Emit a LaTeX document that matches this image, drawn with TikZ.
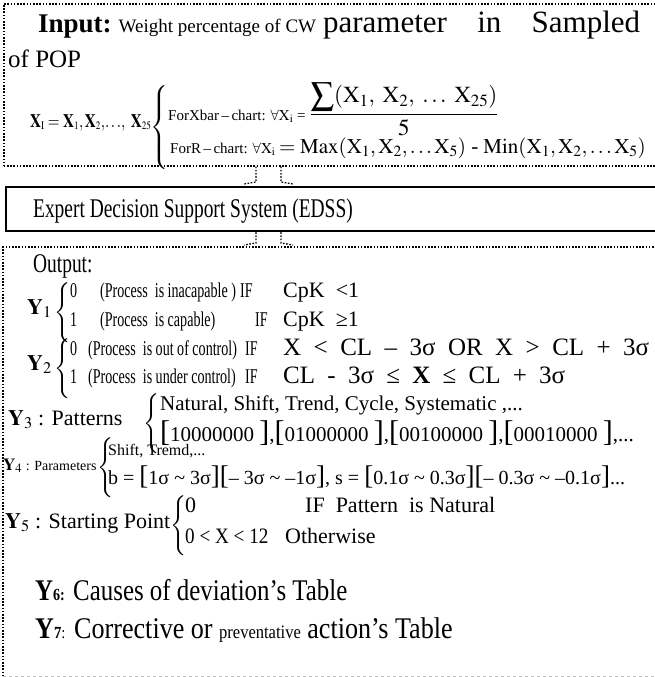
\documentclass[tikz,border=0pt]{standalone}
\usepackage{amsmath}
\usepackage{mathptmx}
\usepackage[no-math]{fontspec}
\setmainfont{Liberation Serif}
\usetikzlibrary{calc}
\newcommand{\fs}[1]{\fontsize{#1}{#1}\selectfont}
\newcommand{\cbr}[1]{$\left\{\vrule height #1 depth #1 width 0pt\right.$}
\newcommand{\bk}[1]{{\fs{30}[}#1{\fs{30}]}}
\newcommand{\sbk}[1]{{\fs{27}[}#1{\fs{27}]}}
\newcommand{\gap}{\hspace{4pt plus 1fill}}
\begin{document}
\begin{tikzpicture}[x=1pt, y=-1pt,
  edsdots/.style = {line width=1.6pt, dash pattern=on 1.6pt off 1.6pt},
  edsbox/.style = {anchor=north west, inner sep=0pt, minimum width=680pt},
  edslbl/.style = {anchor=base west, inner sep=0pt},
  edsrow/.style = {edslbl, font=\fs{21}, xscale=0.67},
  edsbrace/.style = {anchor=west, inner sep=0pt, font=\fs{20}}
]
  \useasboundingbox (0,0) rectangle (654,677);
  % boxes
  \node[edsbox, draw, edsdots, minimum height=162pt] (inbox) at (3,3) {};
  \node[edsbox, draw, line width=2.2pt, minimum height=44pt] (edss) at (5,186) {};
  \node[edsbox, minimum height=429pt] (outbox) at (3,247) {};
  \draw[edsdots] (outbox.south west) -- (outbox.north west) -- (outbox.north east);
  \draw[black!25, dashed] (outbox.south west) -- (outbox.south east);
  % dotted arrows between the boxes
  \coordinate (cl) at (256,0);
  \coordinate (cr) at (281,0);
  \foreach \a/\b in {inbox/edss, edss/outbox} {
    \draw[edsdots, line width=1.3pt] (cl |- \a.south) -- ($(cl |- \b.north)+(0,-4)$) -- ($(cl |- \b.north)+(-12,-2)$);
    \draw[edsdots, line width=1.3pt] (cr |- \a.south) -- ($(cr |- \b.north)+(0,-4)$) -- ($(cr |- \b.north)+(12,-2)$);
  }
  % input
  \node[edslbl] (inhead) at (38,33) {\hbox to 602pt{\fs{27}\textbf{Input:}\hspace{7pt}\fs{19}Weight percentage of CW\hspace{7pt}\fs{31}parameter\hspace{6pt plus 1fill}in\hspace{6pt plus 1fill}Sampled}};
  \node[edslbl, font=\fs{25}] (inpop) at (8,67) {of POP};
  \node[edslbl, font=\fs{19}, xscale=0.8] (xdef) at (30,127) {$\mathbf{X}_{\scriptscriptstyle\mathrm{I}} = \mathbf{X}_{\scriptscriptstyle 1},\mathbf{X}_{\scriptscriptstyle 2},\!\ldots\!,\ \mathbf{X}_{\scriptscriptstyle 25}$};
  \node[edsbrace] (xbrace) at (150,127) {\cbr{37pt}};
  \node[edslbl] (xbar) at (168,120) {\fs{15}ForXbar\,--\,chart: $\forall\mathrm{X}_{\mathrm{i}}$ = \fs{23}$\dfrac{\displaystyle\sum(\mathrm{X}_{1},\;\mathrm{X}_{2},\;\ldots\;\mathrm{X}_{25})}{5}$};
  \node[edslbl] (rchart) at (170,153) {\fs{15}ForR\,--\,chart: $\forall\mathrm{X}_{\mathrm{i}}$ \fs{21}$= \mathrm{Max}(\mathrm{X}_{1},\mathrm{X}_{2},\ldots\mathrm{X}_{5})$ - $\mathrm{Min}(\mathrm{X}_{1},\mathrm{X}_{2},\ldots\mathrm{X}_{5})$};
  % system
  \node[edslbl, font=\fs{27}, xscale=0.72] (edsstxt) at (33,217) {Expert Decision Support System (EDSS)};
  % output
  \node[edslbl, font=\fs{27}, xscale=0.72] (outtxt) at (33,272) {Output:};
  \node[edslbl, font=\fs{22}] (y1) at (27,314) {$\mathbf{Y}_{1}$};
  \node[edsbrace] (y1b) at (54,313) {\cbr{24pt}};
  \foreach \x/\y/\t in {70/297/0, 100/297/(Process\ \ is inacapable ), 240/297/IF,
                        70/326/1, 100/326/(Process\ \ is capable), 255/326/IF}
    \node[edsrow] (y1c\x-\y) at (\x,\y) {\t};
  \node[edslbl, font=\fs{22}] (y1m1) at (283,297) {CpK\ \ <1};
  \node[edslbl, font=\fs{22}] (y1m2) at (283,326) {CpK\ \ ≥1};
  \node[edslbl, font=\fs{22}] (y2) at (27,370) {$\mathbf{Y}_{2}$};
  \node[edsbrace] (y2b) at (54,369) {\cbr{24pt}};
  \foreach \x/\y/\t in {70/355/0, 88/355/(Process\ \ is out of control), 245/355/IF,
                        70/383/1, 88/383/(Process\ \ is under control), 245/383/IF}
    \node[edsrow] (y2c\x-\y) at (\x,\y) {\t};
  \node[edslbl, font=\fs{25}] (y2m1) at (283,355) {\hbox to 366pt{X\gap<\gap CL\gap--\gap3σ\gap OR\gap X\gap>\gap CL\gap+\gap3σ}};
  \node[edslbl, font=\fs{25}] (y2m2) at (283,383) {\hbox to 282pt{CL\gap-\gap3σ\gap≤\gap\textbf{X}\gap≤\gap CL\gap+\gap3σ}};
  % patterns
  \node[edslbl, font=\fs{22}] (y3) at (8,425) {$\mathbf{Y}_{3}$\ : Patterns};
  \node[edsbrace] (y3b) at (143,424) {\cbr{25pt}};
  \node[edslbl, font=\fs{21}] (y3r1) at (160,410) {Natural, Shift, Trend, Cycle, Systematic ,...};
  \node[edslbl, font=\fs{21}] (y3r2) at (160,441) {\bk{10000000 },\bk{01000000 },\bk{00100000 },\bk{00010000 },...};
  % parameters
  \node[edslbl] (y4) at (3,470) {\fs{17}$\mathbf{Y}_{4}$\fs{14} : Parameters};
  \node[edsbrace] (y4b) at (97,468) {\cbr{24pt}};
  \node[edslbl, font=\fs{16}] (y4r1) at (108,455) {Shift, Tremd,...};
  \node[edslbl, font=\fs{20}] (y4r2) at (108,484) {b = \sbk{1σ \textasciitilde{} 3σ}\sbk{-- 3σ \textasciitilde{} --1σ}, s = \sbk{0.1σ \textasciitilde{} 0.3σ}\sbk{-- 0.3σ \textasciitilde{} --0.1σ}...};
  % starting point
  \node[edslbl, font=\fs{22}] (y5) at (5,528) {$\mathbf{Y}_{5}$\ : Starting Point};
  \node[edsbrace] (y5b) at (170,526) {\cbr{26pt}};
  \foreach \x/\y/\t in {185/512/0, 305/512/IF\ \ Pattern\ \ is Natural, 285/543/Otherwise}
    \node[edslbl, font=\fs{22}] (y5c\x-\y) at (\x,\y) {\t};
  \node[edslbl, font=\fs{22}, xscale=0.87] (y5c185-543) at (185,543) {0 < X < 12};
  % tables
  \node[edslbl, font=\fs{30}, xscale=0.83] (y6) at (35,600) {\textbf{Y}{\fs{17}\textbf{6:}} Causes of deviation’s Table};
  \node[edslbl, font=\fs{30}, xscale=0.87] (y7) at (35,638) {\textbf{Y}{\fs{17}\textbf{7}:} Corrective or {\fs{19}preventative} action’s Table};
\end{tikzpicture}
\end{document}
